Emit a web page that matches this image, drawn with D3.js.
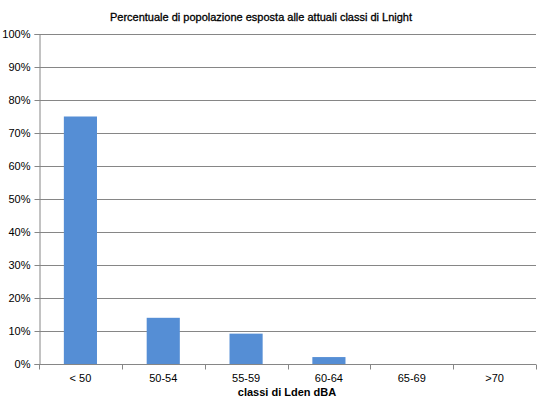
<!DOCTYPE html>
<html>
<head>
<meta charset="utf-8">
<script src="https://cdn.jsdelivr.net/npm/d3@7"></script>
<style>
  body { margin: 0; background: #fff; }
  text { font-family: "Liberation Sans", Arial, sans-serif; fill: #000; }
</style>
</head>
<body>
<svg id="chart"></svg>
<script>
// chart data
var categories = ["< 50", "50-54", "55-59", "60-64", "65-69", ">70"];
var values = [0.75, 0.14, 0.092, 0.021, 0, 0];
var yTicks = [0, 0.1, 0.2, 0.3, 0.4, 0.5, 0.6, 0.7, 0.8, 0.9, 1];
var title = "Percentuale di popolazione esposta alle attuali classi di Lnight";
var xTitle = "classi di Lden dBA";

var width = 539, height = 413;
var margin = { top: 34, right: 3, bottom: 49, left: 39 };

var svg = d3.select("#chart")
    .attr("width", width)
    .attr("height", height);

var x = d3.scaleBand()
    .domain(categories)
    .range([margin.left, width - margin.right])
    .paddingInner(0.6)
    .paddingOuter(0.3);

var y = d3.scaleLinear()
    .domain([0, 1])
    .range([height - margin.bottom, margin.top]);

// gridlines
svg.append("g")
    .selectAll("line")
    .data(yTicks.slice(1))
    .enter().append("line")
    .attr("x1", margin.left)
    .attr("x2", width - margin.right)
    .attr("y1", function (d) { return Math.round(y(d)) + 0.5; })
    .attr("y2", function (d) { return Math.round(y(d)) + 0.5; })
    .style("stroke", "#868686")
    .style("stroke-width", 1);

// bars
svg.append("g")
    .selectAll("rect")
    .data(values)
    .enter().append("rect")
    .attr("x", function (d, i) { return x(categories[i]); })
    .attr("width", x.bandwidth())
    .attr("y", function (d) { return y(d); })
    .attr("height", function (d) { return y(0) - y(d); })
    .style("fill", "#558ED5");

// y axis
var yAxis = d3.axisLeft(y)
    .tickValues(yTicks)
    .tickFormat(d3.format(".0%"))
    .tickSize(5)
    .tickPadding(4);

var gy = svg.append("g")
    .attr("transform", "translate(" + (margin.left + 0.5) + ",0)")
    .call(yAxis);
gy.select(".domain").style("stroke", "#868686");
gy.selectAll(".tick line").style("stroke", "#868686");
gy.selectAll(".tick text")
    .style("font-size", "11px")
    .style("font-family", "Liberation Sans, Arial, sans-serif");

// x axis
var xAxis = d3.axisBottom(x).tickSize(0).tickPadding(10);
var gx = svg.append("g")
    .attr("transform", "translate(0," + (Math.round(y(0)) + 0.5) + ")")
    .call(xAxis);
gx.select(".domain").attr("d", "M" + margin.left + ",0H" + (width - margin.right)).style("stroke", "#868686");
gx.selectAll(".tick text")
    .style("font-size", "11px")
    .style("font-family", "Liberation Sans, Arial, sans-serif");

// tick marks between categories
var edges = d3.range(categories.length + 1).map(function (i) {
    return margin.left + i * (width - margin.right - margin.left) / categories.length;
});
gx.selectAll(".sep")
    .data(edges)
    .enter().append("line")
    .attr("class", "sep")
    .attr("x1", function (d) { return Math.round(d) + 0.5; })
    .attr("x2", function (d) { return Math.round(d) + 0.5; })
    .attr("y1", 0)
    .attr("y2", 5)
    .style("stroke", "#868686");

// titles
svg.append("text")
    .attr("x", 261)
    .attr("y", 21)
    .attr("text-anchor", "middle")
    .style("font-size", "11px")
    .style("stroke", "#000")
    .style("stroke-width", 0.3)
    .text(title);

svg.append("text")
    .attr("x", 287)
    .attr("y", 396)
    .attr("text-anchor", "middle")
    .style("font-size", "11px")
    .style("font-weight", "bold")
    .text(xTitle);
</script>
</body>
</html>
